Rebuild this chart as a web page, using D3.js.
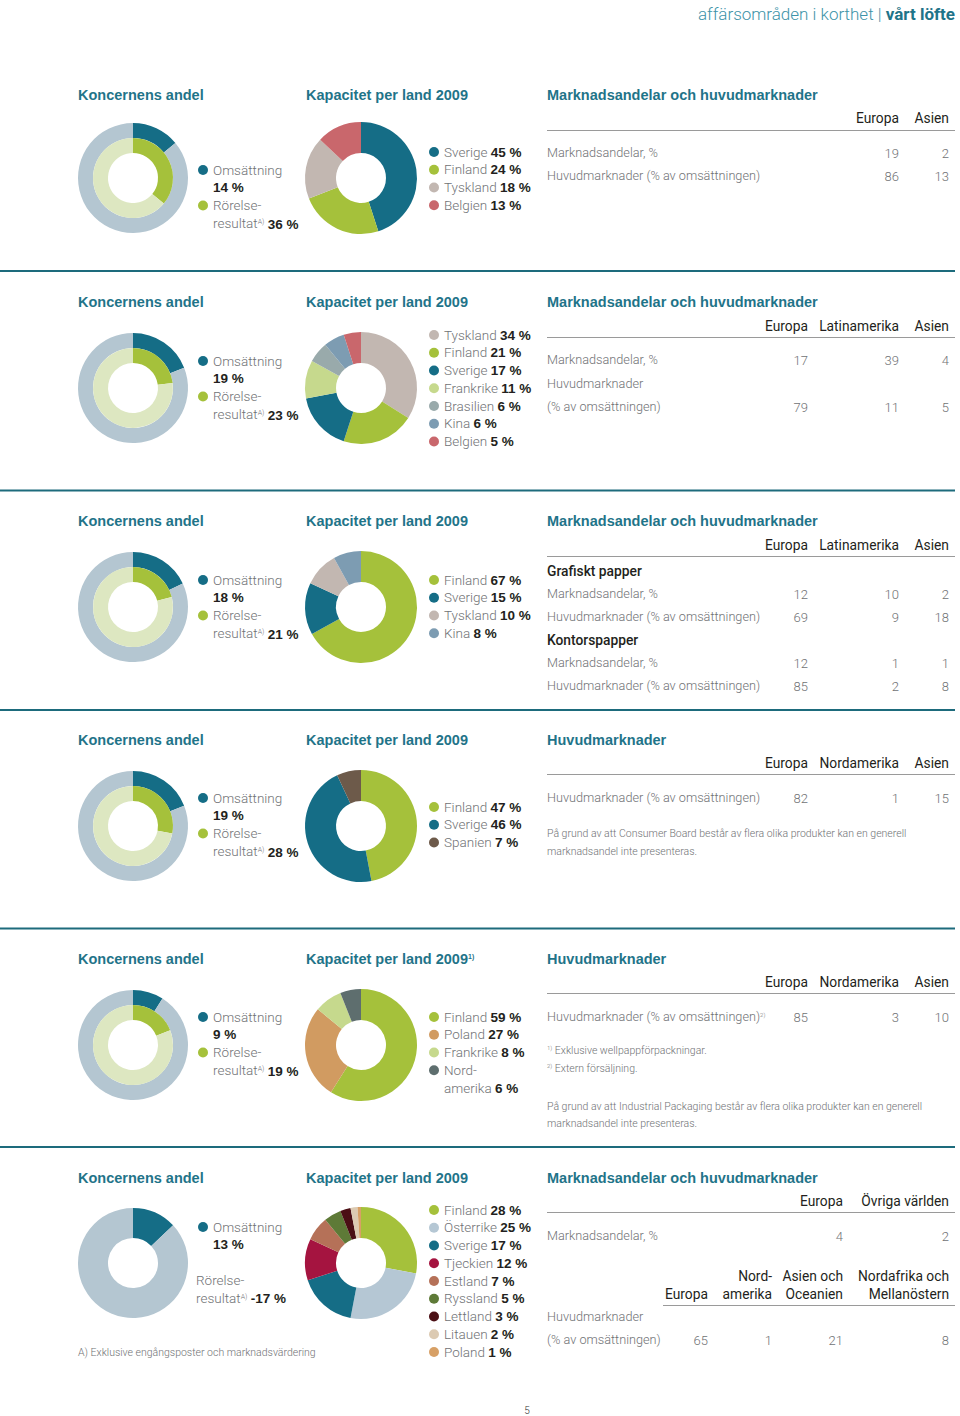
<!DOCTYPE html>
<html><head><meta charset="utf-8">
<script src="https://cdn.jsdelivr.net/npm/d3@7"></script>
<style>
body{margin:0;background:#fff;}
svg{display:block;}
</style></head>
<body><svg id="c" width="960" height="1416"></svg>
<script>
// ---------------- DATA ----------------
const groupOms   = [14, 19, 18, 19, 9, 13];
const groupRores = [36, 23, 21, 28, 19, -17];

const cap1Names = ["Sverige","Finland","Tyskland","Belgien"];
const cap1Values = [45, 24, 18, 13];
const cap2Names = ["Tyskland","Finland","Sverige","Frankrike","Brasilien","Kina","Belgien"];
const cap2Values = [34, 21, 17, 11, 6, 6, 5];
const cap3Names = ["Finland","Sverige","Tyskland","Kina"];
const cap3Values = [67, 15, 10, 8];
const cap4Names = ["Finland","Sverige","Spanien"];
const cap4Values = [47, 46, 7];
const cap5Names = ["Finland","Poland","Frankrike","Nordamerika"];
const cap5Values = [59, 27, 8, 6];
const cap6Names = ["Finland","Österrike","Sverige","Tjeckien","Estland","Ryssland","Lettland","Litauen","Poland"];
const cap6Values = [28, 25, 17, 12, 7, 5, 3, 2, 1];

const t1Cols = ["Europa","Asien"];
const t1Rows = ["Marknadsandelar, %","Huvudmarknader (% av omsättningen)"];
const t1Values = [[19, 2],[86, 13]];

const t2Cols = ["Europa","Latinamerika","Asien"];
const t2Rows = ["Marknadsandelar, %","(% av omsättningen)"];
const t2Values = [[17, 39, 4],[79, 11, 5]];

const t3Cols = ["Europa","Latinamerika","Asien"];
const t3Groups = ["Grafiskt papper","Kontorspapper"];
const t3Rows = ["Marknadsandelar, %","Huvudmarknader (% av omsättningen)","Marknadsandelar, %","Huvudmarknader (% av omsättningen)"];
const t3Values = [[12, 10, 2],[69, 9, 18],[12, 1, 1],[85, 2, 8]];

const t4Cols = ["Europa","Nordamerika","Asien"];
const t4Rows = ["Huvudmarknader (% av omsättningen)"];
const t4Values = [[82, 1, 15]];

const t5Cols = ["Europa","Nordamerika","Asien"];
const t5Rows = ["Huvudmarknader (% av omsättningen)"];
const t5Values = [[85, 3, 10]];

const t6aCols = ["Europa","Övriga världen"];
const t6aValues = [4, 2];
const t6bCols = [["","Europa"],["Nord-","amerika"],["Asien och","Oceanien"],["Nordafrika och","Mellanöstern"]];
const t6bValues = [65, 1, 21, 8];

// ---------------- STYLE ----------------
const C = {
  title:"#1f7489", teal:"#156d86", green:"#a5c13b", lightGreen:"#dde7c1", ring:"#b4c6d1",
  body:"#707275", dark:"#231f20", sep:"#1d6b7c", rule:"#9a9a9a"
};
const countryColor = {
  "Sverige":"#156d86","Finland":"#a5c13b","Tyskland":"#c2b7b1","Belgien":"#c9676c",
  "Frankrike":"#c6d98d","Brasilien":"#99aaab","Kina":"#7d9cb2","Spanien":"#6d5a4a",
  "Poland":"#d19b61","Nordamerika":"#5e6e6e","Österrike":"#b5c7d4","Tjeckien":"#a51440",
  "Estland":"#b57158","Ryssland":"#5e7a37","Lettland":"#4b0f15","Litauen":"#dccab2"
};
const cap6Colors = ["#a5c13b","#b5c7d4","#156d86","#a51440","#b57158","#5e7a37","#4b0f15","#dccab2","#d7a066"];

const FONT = "Roboto, 'Liberation Sans', Arial, sans-serif";
const BOLD = "'Liberation Sans', Arial, sans-serif";

const svg = d3.select("#c");

function text(x, y, s, o={}) {
  const t = svg.append("text").attr("x", x).attr("y", y).attr("dy", "0.35em")
    .attr("font-family", o.family || FONT)
    .attr("font-size", o.size || 13)
    .attr("font-weight", o.weight || 300)
    .attr("fill", o.fill || C.body)
    .attr("text-anchor", o.anchor || "start")
    .text(s);
  return t;
}
function title(x, y, s) {
  return text(x, y, s, {family: BOLD, size: 14.5, weight: 700, fill: C.title});
}
function boldSpan(t, s) {
  t.append("tspan").attr("font-family", BOLD).attr("font-weight", 700)
    .attr("font-size", 13.5).attr("fill", C.dark).text(s);
}

// header
{
  const t = svg.append("text").attr("x", 955).attr("y", 20).attr("text-anchor", "end")
    .attr("font-family", FONT).attr("font-size", 17);
  t.append("tspan").attr("font-weight", 300).attr("fill", "#3d93a8").text("affärsområden i korthet ");
  t.append("tspan").attr("font-weight", 300).attr("fill", "#3d93a8").text("| ");
  t.append("tspan").attr("font-weight", 700).attr("fill", C.title).text("vårt löfte");
}

// separators
const sepY = [271, 490.5, 710, 928.5, 1147];
sepY.forEach(y => svg.append("line").attr("x1", 0).attr("x2", 955).attr("y1", y).attr("y2", y)
  .attr("stroke", C.sep).attr("stroke-width", 2));

// ---------------- LAYOUT ----------------
const rowTitleY = [95, 302, 521, 740, 959, 1178];
const donutCY = [178, 388, 607, 826, 1045, 1263];
const donutLegY = [170, 361, 580, 798, 1017, 1227];
const pieLegY = [152, 335, 580, 807, 1017, 1210];
const LH = 17.75;
const donutCX = 133, pieCX = 361;

const pie = d3.pie().sort(null).value(d => d);

function ring(cx, cy, r0, r1, share, cFill, cRest) {
  const arc = d3.arc().innerRadius(r0).outerRadius(r1);
  const g = svg.append("g").attr("transform", `translate(${cx},${cy})`);
  g.selectAll("path").data(pie([share, 100 - share])).join("path")
    .attr("d", arc).attr("fill", (d, i) => i === 0 ? cFill : cRest);
}

function dot(x, y, col) {
  svg.append("circle").attr("cx", x).attr("cy", y).attr("r", 5).attr("fill", col);
}

function groupBlock(i) {
  title(78, rowTitleY[i], "Koncernens andel");
  const cy = donutCY[i];
  const hasInner = groupRores[i] > 0;
  if (hasInner) {
    ring(donutCX, cy, 40, 55, groupOms[i], C.teal, C.ring);
    ring(donutCX, cy, 25, 40, groupRores[i], C.green, C.lightGreen);
  } else {
    ring(donutCX, cy, 25, 55, groupOms[i], C.teal, C.ring);
  }
  const y0 = donutLegY[i];
  dot(203, y0, C.teal);
  text(213, y0, "Omsättning", {size: 13.5});
  const v = text(213, y0 + LH, "");
  boldSpan(v, groupOms[i] + " %");
  let rx = 213, ry = y0 + 2 * LH;
  if (hasInner) { dot(203, ry, C.green); } else { rx = 196; ry = y0 + 3 * LH; }
  text(rx, ry, "Rörelse-", {size: 13.5});
  const t = svg.append("text").attr("x", rx).attr("y", ry + LH).attr("dy", "0.35em")
    .attr("font-family", FONT).attr("font-size", 13.5).attr("fill", C.body);
  t.append("tspan").attr("font-weight", 300).text("resultat");
  t.append("tspan").attr("font-weight", 300).attr("font-size", 7).attr("dy", "-0.6em").text("A)");
  t.append("tspan").attr("dy", "0.35em").text(" ");
  boldSpan(t, groupRores[i] + " %");
}

function capBlock(i, names, values, colors, sup) {
  const tt = title(306, rowTitleY[i], "Kapacitet per land 2009");
  if (sup) tt.append("tspan").attr("font-size", 7).attr("dy", "-0.7em").text(sup);
  const arc = d3.arc().innerRadius(25).outerRadius(56);
  const g = svg.append("g").attr("transform", `translate(${pieCX},${donutCY[i]})`);
  g.selectAll("path").data(pie(values)).join("path")
    .attr("d", arc).attr("fill", (d, k) => colors[k]);
  let y = pieLegY[i];
  names.forEach((n, k) => {
    dot(434, y, colors[k]);
    if (n === "Nordamerika") {
      text(444, y, "Nord-", {size: 13.5});
      y += LH;
      const t = text(444, y, "amerika ", {size: 13.5});
      boldSpan(t, values[k] + " %");
    } else {
      const t = text(444, y, n + " ", {size: 13.5});
      boldSpan(t, values[k] + " %");
    }
    y += LH;
  });
}

function rule(y, x1 = 547, x2 = 955) {
  svg.append("line").attr("x1", x1).attr("x2", x2).attr("y1", y).attr("y2", y)
    .attr("stroke", C.rule).attr("stroke-width", 1);
}
function colHead(x, y, s) { return text(x, y, s, {weight: 400, fill: C.dark, anchor: "end", size: 13.8}); }
function num(x, y, v) { return text(x, y, String(v), {anchor: "end", size: 13}); }
function rowLabel(x, y, s) { return text(x, y, s, {size: 12.7}); }

// ---------------- ROWS ----------------
for (let i = 0; i < 6; i++) groupBlock(i);
capBlock(0, cap1Names, cap1Values, cap1Names.map(n => countryColor[n]));
capBlock(1, cap2Names, cap2Values, cap2Names.map(n => countryColor[n]));
capBlock(2, cap3Names, cap3Values, cap3Names.map(n => countryColor[n]));
capBlock(3, cap4Names, cap4Values, cap4Names.map(n => countryColor[n]));
capBlock(4, cap5Names, cap5Values, cap5Names.map(n => countryColor[n]), "1)");
capBlock(5, cap6Names, cap6Values, cap6Colors);

// Table 1
{
  const x = d3.scaleOrdinal().domain(t1Cols).range([899, 949]);
  title(547, rowTitleY[0], "Marknadsandelar och huvudmarknader");
  t1Cols.forEach(c => colHead(x(c), 118, c));
  rule(130.5);
  t1Rows.forEach((r, k) => {
    const y = 153 + k * 23;
    rowLabel(547, y, r);
    t1Cols.forEach((c, j) => num(x(c), y, t1Values[k][j]));
  });
}
// Table 2
{
  const x = d3.scaleOrdinal().domain(t2Cols).range([808, 899, 949]);
  title(547, rowTitleY[1], "Marknadsandelar och huvudmarknader");
  t2Cols.forEach(c => colHead(x(c), 326, c));
  rule(337.5);
  rowLabel(547, 360, t2Rows[0]);
  t2Cols.forEach((c, j) => num(x(c), 360, t2Values[0][j]));
  rowLabel(547, 384, "Huvudmarknader");
  rowLabel(547, 407, t2Rows[1]);
  t2Cols.forEach((c, j) => num(x(c), 407, t2Values[1][j]));
}
// Table 3
{
  const x = d3.scaleOrdinal().domain(t3Cols).range([808, 899, 949]);
  title(547, rowTitleY[2], "Marknadsandelar och huvudmarknader");
  t3Cols.forEach(c => colHead(x(c), 545, c));
  rule(556.5);
  const ys = [594, 617, 663, 686];
  text(547, 571, t3Groups[0], {weight: 500, fill: C.dark, size: 13.8});
  text(547, 640, t3Groups[1], {weight: 500, fill: C.dark, size: 13.8});
  t3Rows.forEach((r, k) => {
    rowLabel(547, ys[k], r);
    t3Cols.forEach((c, j) => num(x(c), ys[k], t3Values[k][j]));
  });
}
// Table 4
{
  const x = d3.scaleOrdinal().domain(t4Cols).range([808, 899, 949]);
  title(547, rowTitleY[3], "Huvudmarknader");
  t4Cols.forEach(c => colHead(x(c), 763, c));
  rule(774.5);
  rowLabel(547, 798, t4Rows[0]);
  t4Cols.forEach((c, j) => num(x(c), 798, t4Values[0][j]));
  text(547, 833, "På grund av att Consumer Board består av flera olika produkter kan en generell", {size: 10.5});
  text(547, 851, "marknadsandel inte presenteras.", {size: 10.5});
}
// Table 5
{
  const x = d3.scaleOrdinal().domain(t5Cols).range([808, 899, 949]);
  title(547, rowTitleY[4], "Huvudmarknader");
  t5Cols.forEach(c => colHead(x(c), 982, c));
  rule(993.5);
  const t = rowLabel(547, 1017, t5Rows[0]);
  t.append("tspan").attr("font-size", 6).attr("dy", "-0.8em").text("2)");
  t5Cols.forEach((c, j) => num(x(c), 1017, t5Values[0][j]));
  const f1 = text(547, 1052, "", {size: 10.5});
  f1.append("tspan").attr("font-size", 6).attr("dy", "-0.4em").text("1)");
  f1.append("tspan").attr("dy", "0.4em").text(" Exklusive wellpappförpackningar.");
  const f2 = text(547, 1070, "", {size: 10.5});
  f2.append("tspan").attr("font-size", 6).attr("dy", "-0.4em").text("2)");
  f2.append("tspan").attr("dy", "0.4em").text(" Extern försäljning.");
  text(547, 1106, "På grund av att Industrial Packaging består av flera olika produkter kan en generell", {size: 10.5});
  text(547, 1123, "marknadsandel inte presenteras.", {size: 10.5});
}
// Table 6
{
  const xa = d3.scaleOrdinal().domain(t6aCols).range([843, 949]);
  title(547, rowTitleY[5], "Marknadsandelar och huvudmarknader");
  t6aCols.forEach(c => colHead(xa(c), 1201, c));
  rule(1212.5);
  rowLabel(547, 1236, "Marknadsandelar, %");
  t6aCols.forEach((c, j) => num(xa(c), 1236, t6aValues[j]));
  const xb = d3.scaleOrdinal().domain(t6bCols.map(d => d.join(" "))).range([708, 772, 843, 949]);
  t6bCols.forEach(c => {
    const k = c.join(" ");
    if (c[0]) colHead(xb(k), 1276, c[0]);
    colHead(xb(k), 1294, c[1]);
  });
  rule(1305.5, 663, 955);
  rowLabel(547, 1317, "Huvudmarknader");
  rowLabel(547, 1340, "(% av omsättningen)");
  t6bCols.forEach((c, j) => num(xb(c.join(" ")), 1340, t6bValues[j]));
}

text(78, 1352, "A) Exklusive engångsposter och marknadsvärdering", {size: 10.5});
text(527, 1410, "5", {size: 10, fill: "#333", anchor: "middle"});
</script></body></html>
